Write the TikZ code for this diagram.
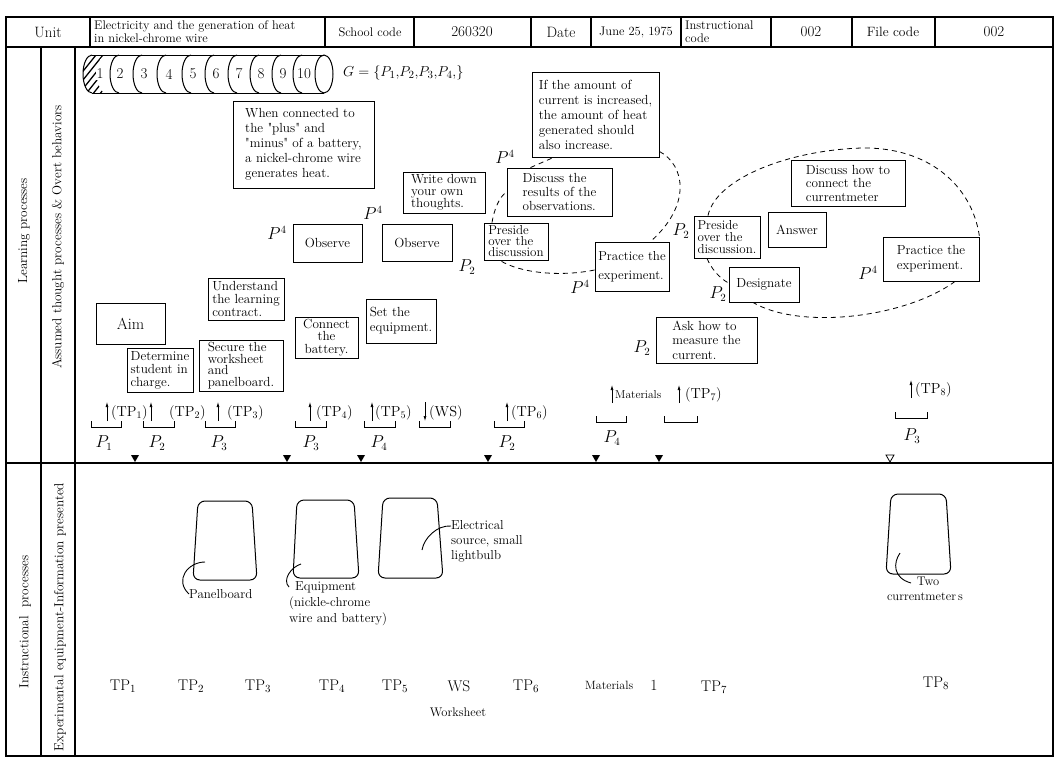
\documentclass[tikz,border=0pt]{standalone}
\usetikzlibrary{arrows.meta}
\newcommand\fs[2]{\fontsize{#1}{#2}\selectfont}
\newcommand\qq{\textquotedbl}
\tikzset{
  frm/.style={line width=1.1pt},
  bx/.style={draw, fill=white, line width=0.9pt, inner sep=2pt, align=left, font=\fs{13.2}{15}},
  pl/.style={font=\fs{16}{16}, inner sep=0pt},
  dsh/.style={dash pattern=on 5pt off 4pt, line width=0.8pt},
  uparr/.style={-{Latex[length=5pt,width=3pt]}, line width=0.7pt},
  brk/.style={line width=0.8pt},
  tp/.style={font=\fs{14.5}{14}, inner sep=0pt, anchor=west},
  btp/.style={font=\fs{15.5}{15}, inner sep=0pt},
  hd/.style={font=\fs{12.5}{13}, inner sep=0pt, align=left},
  side/.style={font=\fs{13.2}{14}, rotate=90, inner sep=0pt},
  lbl/.style={font=\fs{13}{16}, inner sep=0pt, align=left},
  eq/.style={line width=1pt, rounded corners=7pt},
  tri/.style={fill=black}
}
\begin{document}
\begin{tikzpicture}[x=1pt,y=-1pt]
\useasboundingbox (0,0) rectangle (1059,758);
% ---------- frame ----------
\draw[frm] (6,17) rectangle (1053,756);
\draw[frm] (6,47) -- (1053,47);
\draw[frm] (6,463) -- (1053,463);
\draw[frm] (41,47) -- (41,756);
\draw[frm] (75,47) -- (75,756);
\foreach \x in {90,325,414,531,591,681,771,852,935} \draw[frm] (\x,17) -- (\x,47);
% ---------- header ----------
\node[hd, font=\fs{15}{15}] (hunit) at (48,32) {Unit};
\node[hd, anchor=west, font=\fs{12.5}{13}] (htitle) at (94,32) {Electricity and the generation of heat\\in nickel-chrome wire};
\node[hd] (hschool) at (370,32) {School code};
\node[hd, font=\fs{15}{15}] (hscode) at (472,32) {260320};
\node[hd, font=\fs{15}{15}] (hdate) at (561,32) {Date};
\node[hd, font=\fs{12.5}{13}] (hdatev) at (636,32) {June 25, 1975};
\node[hd, anchor=west, font=\fs{12.5}{13}] (hinst) at (685,32) {Instructional\\code};
\node[hd, font=\fs{15}{15}] (hinstv) at (811,32) {002};
\node[hd, font=\fs{13.5}{14}] (hfile) at (893,32) {File code};
\node[hd, font=\fs{15}{15}] (hfilev) at (994,32) {002};
% ---------- side labels ----------
\node[side] (lp) at (24,231) {Learning processes};
\node[side] (atp) at (58,237) {Assumed thought processes \& Overt behaviors};
\node[side] (ip) at (25,622) {Instructional\ \ processes};
\node[side] (eip) at (60,617) {Experimental equipment-Information presented};
% ---------- cylinder ----------
\begin{scope}
\clip (92,55) arc[start angle=-90,end angle=-270,x radius=9,y radius=19] -- (106,93) arc[start angle=90,end angle=270,x radius=9,y radius=19] -- cycle;
\foreach \x in {60,67,...,120} \draw[line width=1.3pt] (\x,100) -- (\x+40,50);
\end{scope}
\draw[line width=1pt] (92,55) arc[start angle=-90,end angle=-270,x radius=9,y radius=19];
\draw[line width=1pt] (92,55) -- (324,55);
\draw[line width=1pt] (92,93) -- (324,93);
\draw[line width=1pt] (324,74) ellipse [x radius=9, y radius=19];
\foreach \x in {110,133,157,182,205,228,250,272,293}
  \draw[line width=1pt] (\x+9,55) arc[start angle=-90,end angle=-270,x radius=9,y radius=19];
\node[font=\fs{15}{15}, inner sep=0.6pt, fill=white] (c1) at (100,74) {1};
\foreach \n/\x in {2/120,3/144,4/169,5/193,6/216,7/239,8/261,9/283,10/304}
  \node[font=\fs{15}{15}, inner sep=0pt] (c\n) at (\x,74) {\n};
\node[font=\fs{15.5}{16}, inner sep=0pt, anchor=west] (gset) at (343,73) {$G=\{P_1{,}P_2{,}P_3{,}P_4{,}\}$};
\coordinate (top2) at (862,148);
% ---------- upper boxes ----------
\node[bx, minimum width=141pt, minimum height=87pt] (when) at (303.5,144.5)
  {When connected to\\the \qq plus\qq\ and\\\qq minus\qq\ of a battery,\\a nickel-chrome wire\\generates heat.};
\node[bx, minimum width=127pt, minimum height=85pt] (ifamt) at (595.5,114.5)
  {If the amount of\\current is increased,\\the amount of heat\\generated should\\also increase.};
\node[bx, minimum width=82pt, minimum height=41pt, font=\fs{13.2}{12}] (write) at (444,192.5)
  {Write down\\your own\\thoughts.};
\node[bx, minimum width=105pt, minimum height=48pt, font=\fs{13.2}{14}] (disc1) at (559.5,192)
  {Discuss the\\results of the\\observations.};
\node[bx, minimum width=69pt, minimum height=38pt] (obs1) at (327.5,243) {Observe};
\node[bx, minimum width=70pt, minimum height=37pt] (obs2) at (417,242.5) {Observe};
\node[bx, minimum width=64pt, minimum height=37pt, inner sep=1pt, font=\fs{13}{11}] (pres1) at (516,241.5)
  {Preside\\over the\\discussion};
\node[bx, minimum width=74pt, minimum height=49pt, font=\fs{13}{19}] (prac1) at (632,266.5)
  {Practice the\\experiment.};
\node[bx, minimum width=114pt, minimum height=46pt, font=\fs{13.2}{13.5}] (disc2) at (848,183)
  {Discuss how to\\connect the\\currentmeter};
\node[bx, minimum width=66pt, minimum height=42pt, inner sep=1pt, font=\fs{13}{12}] (pres2) at (727,237)
  {Preside\\over the\\discussion.};
\node[bx, minimum width=58pt, minimum height=35pt] (answer) at (797,229.5) {Answer};
\node[bx, minimum width=96pt, minimum height=44pt] (prac2) at (931,259)
  {Practice the\\experiment.};
\node[bx, minimum width=70pt, minimum height=35pt] (desig) at (764,284.5) {Designate};
\node[bx, minimum width=101pt, minimum height=46pt, font=\fs{13.2}{14.5}] (ask) at (706.5,340)
  {Ask how to\\measure the\\current.};
\node[bx, minimum width=69pt, minimum height=41pt, font=\fs{16}{16}] (aim) at (130.5,323.5) {Aim};
\node[bx, minimum width=66pt, minimum height=44pt, inner sep=1pt, font=\fs{13.2}{13}] (determ) at (160,370)
  {Determine\\student in\\charge.};
\node[bx, minimum width=84pt, minimum height=51pt, inner sep=1pt, font=\fs{13.2}{11.7}] (secure) at (241,365.5)
  {Secure the\\worksheet\\and\\panelboard.};
\node[bx, minimum width=76pt, minimum height=42pt, inner sep=1pt, font=\fs{13.2}{13}] (underst) at (246,299)
  {Understand\\the learning\\contract.};
\node[bx, minimum width=63pt, minimum height=41pt, align=center, font=\fs{13.2}{12.5}] (connect) at (326.5,337.5)
  {Connect\\the\\battery.};
\node[bx, minimum width=70pt, minimum height=44pt, font=\fs{13.2}{15}] (setq) at (401,321)
  {Set the\\equipment.};
% dashed loop 1
\draw[dsh] ([yshift=6pt]ifamt.south east) .. controls (685,165) and (692,205) .. ([xshift=-19pt]prac1.north east);
\draw[dsh] ([yshift=-3.5pt]prac1.west) .. controls (560,277) and (520,273) .. ([xshift=-16pt]pres1.south);
\draw[dsh] ([xshift=-24pt]pres1.north) .. controls (494,210) and (499,197) .. (disc1.west);
\draw[dsh] ([xshift=-29pt]disc1.north) -- ([xshift=-42pt]ifamt.south);
% dashed loop 2
\draw[dsh] ([xshift=-19pt]pres2.north) .. controls (716,178) and (790,150) .. (top2)
  .. controls (928,147) and (972,185) .. (prac2.north east);
\draw[dsh] ([xshift=24pt]prac2.south) .. controls (905,318) and (800,330) .. ([xshift=-11pt]desig.south);
\draw[dsh] ([xshift=-20pt]pres2.south) .. controls (711,268) and (719,278) .. ([yshift=1.5pt]desig.west);
% ---------- P labels ----------
\node[pl] (p1) at (277,233) {$P^4$};
\node[pl] (p2) at (373,213) {$P^4$};
\node[pl] (p3) at (467,267) {$P_2$};
\node[pl] (p4) at (505,157) {$P^4$};
\node[pl] (p5) at (580,287) {$P^4$};
\node[pl] (p6) at (681,231) {$P_2$};
\node[pl] (p7) at (868,273) {$P^4$};
\node[pl] (p8) at (718,294) {$P_2$};
\node[pl] (p9) at (642,348) {$P_2$};
% ---------- arrows row ----------
\foreach \x in {107,151,218,310,372,507} \draw[uparr] (\x,421) -- (\x,402);
\draw[uparr] (425,402) -- (425,421);
\foreach \x in {612,679} \draw[uparr] (\x,403) -- (\x,385);
\draw[uparr] (911,398) -- (911,380);
\node[tp] (a1) at (111,413) {(TP$_1$)};
\node[tp] (a2) at (169,413) {(TP$_2$)};
\node[tp] (a3) at (227,413) {(TP$_3$)};
\node[tp] (a4) at (316,413) {(TP$_4$)};
\node[tp] (a5) at (375,413) {(TP$_5$)};
\node[tp] (a6) at (429,413) {(WS)};
\node[tp] (a7) at (511,413) {(TP$_6$)};
\node[tp, font=\fs{11.5}{12}] (a8) at (615,395) {Materials};
\node[tp] (a9) at (685,395) {(TP$_7$)};
\node[tp] (a10) at (915,390) {(TP$_8$)};
\foreach \a/\b/\y in {91/121/427,143/174/427,205/235/427,295/326/427,364/395/427,419/450/427,494/524/427,596/626/422,664/697/422,895/927/418}
  \draw[brk] (\a,\y-6) -- (\a,\y) -- (\b,\y) -- (\b,\y-6);
\node[pl] (q1) at (104,443) {$P_1$};
\node[pl] (q2) at (157,443) {$P_2$};
\node[pl] (q3) at (219,443) {$P_3$};
\node[pl] (q4) at (311,443) {$P_3$};
\node[pl] (q5) at (379,443) {$P_4$};
\node[pl] (q6) at (507,443) {$P_2$};
\node[pl] (q7) at (612,438) {$P_4$};
\node[pl] (q8) at (912,436) {$P_3$};
\foreach \x in {135,287,361,488,596,659} \fill[tri] (\x-4,455) -- (\x+4,455) -- (\x,462) -- cycle;
\draw[line width=0.8pt] (886,455) -- (894,455) -- (890,462) -- cycle;
% ---------- equipment ----------
\draw[eq] (225,501) -- (252,501) -- (257,580) -- (193,580) -- (198,501) -- cycle;
\draw[eq] (325,500) -- (354,500) -- (359,578) -- (293,578) -- (297,500) -- cycle;
\draw[eq] (410,498) -- (437,498) -- (443,578) -- (378,578) -- (383,498) -- cycle;
\draw[eq] (918,494) -- (946,494) -- (951,574) -- (886,574) -- (891,494) -- cycle;
\node[lbl, anchor=west] (panel) at (189,594) {Panelboard};
\node[lbl, anchor=north west] (equip) at (289,581) {\hspace*{6pt}Equipment\\(nickle-chrome\\wire and battery)};
\node[lbl, anchor=west, font=\fs{13}{15}] (elec) at (451,541) {Electrical\\source, small\\lightbulb};
\node[lbl, anchor=north, align=center, font=\fs{12.5}{15}] (twocm) at (925,577) {\hspace*{6pt}Two\\currentmeter\,s};
\draw[line width=0.9pt] (205,562) .. controls (188,562) and (174,580) .. (panel.west);
\draw[line width=0.9pt] (301,564) .. controls (291,567) and (282,580) .. ([yshift=-6pt]equip.north west);
\draw[line width=0.9pt] (422,550) .. controls (424,538) and (437,525) .. ([yshift=15pt]elec.west);
\draw[line width=0.9pt] (900,553) .. controls (893,563) and (893,578) .. ([xshift=-14pt,yshift=-6pt]twocm.north);
% ---------- bottom labels ----------
\node[btp] (b1) at (123,686) {TP$_1$};
\node[btp] (b2) at (191,686) {TP$_2$};
\node[btp] (b3) at (258,686) {TP$_3$};
\node[btp] (b4) at (332,686) {TP$_4$};
\node[btp] (b5) at (395,686) {TP$_5$};
\node[btp] (b6) at (459,686) {WS};
\node[btp] (b7) at (526,686) {TP$_6$};
\node[btp, font=\fs{12}{12}, anchor=west] (b8) at (585,685) {Materials};
\node[btp] (b8n) at (654,685) {1};
\node[btp] (b9) at (714,687) {TP$_7$};
\node[btp] (b10) at (936,683) {TP$_8$};
\node[font=\fs{12.5}{13}, inner sep=0pt] (wsl) at (458,712) {Worksheet};
\end{tikzpicture}
\end{document}
